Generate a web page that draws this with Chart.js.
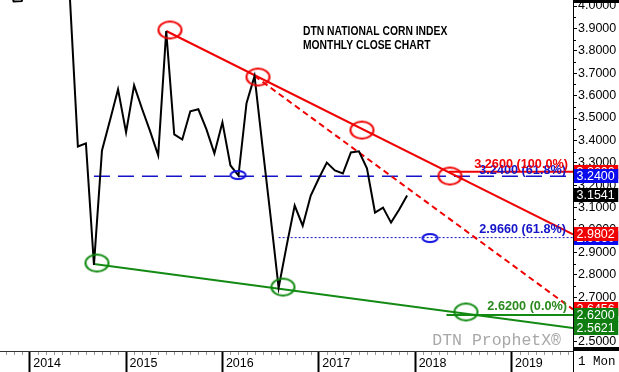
<!DOCTYPE html>
<html><head><meta charset="utf-8">
<script src="https://cdn.jsdelivr.net/npm/chart.js@4/dist/chart.umd.min.js"></script>
<style>html,body{margin:0;padding:0;background:#fff}#c{display:block}</style>
</head><body>
<canvas id="c" width="619" height="372"></canvas>
<script>
// month index: 0 = Jan 2014
const months = [-4,-3,-2,-1,0,1,2,3,4,5,6,7,8,9,10,11,12,13,14,15,16,17,18,19,20,21,22,23,24,25,26,27,28,29,30,31,32,33,34,35,36,37,38,39,40,41,42,43,44,45,46,47];
const closes = [4.30,4.15,4.020,4.022,4.12,4.35,4.48,4.60,4.42,4.04,3.373,3.387,2.844,3.355,3.490,3.628,3.436,3.646,3.540,3.440,3.333,3.888,3.427,3.404,3.530,3.539,3.450,3.342,3.481,3.288,3.243,3.566,3.687,3.370,3.060,2.742,2.930,3.109,3.019,3.154,3.230,3.301,3.266,3.252,3.346,3.351,3.275,3.078,3.100,3.033,3.090,3.1541];

const xMin = -3.70, xMax = 67.66;
const yMin = 2.4597, yMax = 4.0269;

const yearTickMonths = [0,12,24,36,48,60];
const yearLabels = ['2014','2015','2016','2017','2018','2019'];
const yTicks = [2.5,2.6,2.7,2.8,2.9,3.0,3.1,3.2,3.3,3.4,3.5,3.6,3.7,3.8,3.9,4.0];

// trend lines [start, end]
const redTrendX = [17, xMax],   redTrendY = [3.8885, 2.9802];
const redDashX  = [28, xMax],   redDashY  = [3.6876, 2.6456];
const greenTrendX = [8, xMax],  greenTrendY = [2.848, 2.5621];
const blueLevelX = [8, xMax],   blueLevelY = [3.24, 3.24];
const blueDotX  = [31, xMax],   blueDotY  = [2.966, 2.966];
const redLevelX = [52.2, xMax], redLevelY = [3.26, 3.26];
const greenLevelX = [51.9, xMax], greenLevelY = [2.62, 2.62];

// circled points
const redCircleX = [17.47, 28.43, 41.38, 52.34], redCircleY = [3.893, 3.683, 3.446, 3.241];
const greenCircleX = [8.38, 31.54, 54.33], greenCircleY = [2.8526, 2.745, 2.634];
const blueCircleX = [25.94, 49.85], blueCircleY = [3.2455, 2.964];

// level labels on the chart
const levelValues = [3.24, 3.26, 2.966, 2.62];
const levelTexts = ['3.2400 (61.8%)', '3.2600 (100.0%)', '2.9660 (61.8%)', '2.6200 (0.0%)'];

// value boxes on the right axis
const boxValues = [3.26, 3.24, 3.1541, 2.966, 2.9802, 2.6456, 2.62, 2.5621];
const boxTexts  = ['3.2600','3.2400','3.1541','2.9660','2.9802','2.6456','2.6200','2.5621'];

const titleLines = ['DTN NATIONAL CORN INDEX', 'MONTHLY CLOSE CHART'];

const RED = '#f00000', GREEN = '#138a13', BLUE = '#1414c8';
const SANS = "'Liberation Sans', Arial, sans-serif";
const MONO = "'Liberation Mono', 'Courier New', monospace";

function pts(xs, ys){ return xs.map((v,i)=>({x:v, y:ys[i]})); }
function ellipse(rx, ry, color, w){
  const c = document.createElement('canvas');
  c.width = Math.ceil(rx*2 + w + 2); c.height = Math.ceil(ry*2 + w + 2);
  const g = c.getContext('2d');
  g.strokeStyle = color; g.lineWidth = w;
  g.beginPath(); g.ellipse(c.width/2, c.height/2, rx, ry, 0, 0, Math.PI*2); g.stroke();
  return c;
}

const levelStyles = [
  {color: BLUE, dy: -6, right: 566},
  {color: RED, dy: -7, right: 568},
  {color: BLUE, dy: -8, right: 566},
  {color: '#2a8a1e', dy: -9, right: 567}
];
const boxColors = [RED, '#0a0aee', '#000000', '#0a0aee', RED, RED, '#0f7d0f', '#0f7d0f'];

const overlay = {
  id: 'overlay',
  afterDraw(chart){
    const {ctx, chartArea: a, scales: {x, y}} = chart;
    const W = chart.width, H = chart.height;
    ctx.save();
    // minor month ticks along bottom strip
    ctx.strokeStyle = '#9a9a9a'; ctx.lineWidth = 1;
    for (let m = Math.ceil(x.min); m <= x.max; m++) {
      if (yearTickMonths.includes(m)) continue;
      const px = Math.round(x.getPixelForValue(m)) + 0.5;
      ctx.beginPath(); ctx.moveTo(px, a.bottom + 1); ctx.lineTo(px, a.bottom + 4); ctx.stroke();
    }
    // minor y ticks
    ctx.strokeStyle = '#000';
    for (let i = 0; i < yTicks.length; i++) {
      const v = yTicks[i] + 0.05;
      if (v > y.max) continue;
      const py = Math.round(y.getPixelForValue(v)) + 0.5;
      ctx.beginPath(); ctx.moveTo(a.right, py); ctx.lineTo(a.right + 3, py); ctx.stroke();
    }
    // frame pieces on right axis
    ctx.fillStyle = '#000';
    ctx.fillRect(a.right, 0, W - a.right, 3);
    ctx.fillRect(a.right, a.bottom - 4, W - a.right, 4);
    ctx.fillRect(a.right, a.bottom, 1, H - a.bottom);
    // bottom-right cell text
    ctx.font = '12.5px ' + MONO; ctx.textBaseline = 'middle'; ctx.textAlign = 'left';
    ctx.fillText('1 Mon', a.right + 5, 362);
    // title (condensed bold)
    ctx.font = 'bold 12px ' + SANS;
    ctx.save(); ctx.translate(303, 31.5); ctx.scale(0.86, 1); ctx.fillText(titleLines[0], 0, 0); ctx.restore();
    ctx.save(); ctx.translate(303, 45.5); ctx.scale(0.86, 1); ctx.fillText(titleLines[1], 0, 0); ctx.restore();
    // watermark
    ctx.font = '16.5px ' + MONO; ctx.fillStyle = '#a8a8a8'; ctx.textAlign = 'right';
    ctx.fillText('DTN ProphetX\u00AE', 561, 341);
    // level labels
    ctx.font = 'bold 12.7px ' + SANS; ctx.textAlign = 'right';
    for (let i = 0; i < levelValues.length; i++) {
      const s = levelStyles[i];
      ctx.fillStyle = s.color;
      ctx.fillText(levelTexts[i], s.right, y.getPixelForValue(levelValues[i]) + s.dy);
    }
    // value boxes
    ctx.font = '12.5px ' + SANS; ctx.textAlign = 'left';
    for (let i = 0; i < boxValues.length; i++) {
      const py = y.getPixelForValue(boxValues[i]);
      const tw = ctx.measureText(boxTexts[i]).width;
      ctx.fillStyle = boxColors[i];
      ctx.fillRect(a.right + 1, Math.round(py - 7), tw + 6, 14);
      ctx.fillStyle = '#fff';
      ctx.fillText(boxTexts[i], a.right + 3.5, py + 0.5);
    }
    ctx.restore();
  }
};

new Chart(document.getElementById('c'), {
  type: 'line',
  data: {
    datasets: [
      {data: pts(redCircleX, redCircleY), showLine: false, pointStyle: ellipse(11.5, 8.5, RED, 2), pointRadius: 12, order: 0},
      {data: pts(greenCircleX, greenCircleY), showLine: false, pointStyle: ellipse(11.5, 8.5, '#0f8a0f', 2), pointRadius: 12, order: 0},
      {data: pts(blueCircleX, blueCircleY), showLine: false, pointStyle: ellipse(7.5, 4, '#1010e0', 2), pointRadius: 8, order: 0},
      {data: pts(months, closes), borderColor: '#000', borderWidth: 2, pointRadius: 0, order: 1},
      {data: pts(redTrendX, redTrendY), borderColor: RED, borderWidth: 2, pointRadius: 0, order: 2},
      {data: pts(redDashX, redDashY), borderColor: RED, borderWidth: 2, borderDash: [6, 4], pointRadius: 0, order: 2},
      {data: pts(greenTrendX, greenTrendY), borderColor: GREEN, borderWidth: 2, pointRadius: 0, order: 2},
      {data: pts(redLevelX, redLevelY), borderColor: RED, borderWidth: 2, pointRadius: 0, order: 3},
      {data: pts(greenLevelX, greenLevelY), borderColor: GREEN, borderWidth: 2, pointRadius: 0, order: 3},
      {data: pts(blueLevelX, blueLevelY), borderColor: BLUE, borderWidth: 1.3, borderDash: [16, 8], pointRadius: 0, order: 3},
      {data: pts(blueDotX, blueDotY), borderColor: BLUE, borderWidth: 1, borderDash: [2, 2], pointRadius: 0, order: 3}
    ]
  },
  options: {
    responsive: false, animation: false, devicePixelRatio: 1, events: [],
    layout: {padding: 0, autoPadding: false},
    plugins: {legend: {display: false}, tooltip: {enabled: false}},
    elements: {line: {tension: 0}},
    scales: {
      x: {
        type: 'linear', position: 'bottom', min: xMin, max: xMax,
        afterBuildTicks: s => { s.ticks = yearTickMonths.map(v => ({value: v})); },
        ticks: {callback: (v, i) => yearLabels[i], autoSkip: false, maxRotation: 0, align: 'start',
                labelOffset: 3.5, padding: -15.5, color: '#000', font: {family: SANS, size: 12.5}},
        grid: {drawOnChartArea: false, drawTicks: true, tickLength: 21, tickWidth: 2, tickColor: '#000'},
        border: {display: true, color: '#333', width: 1},
        afterFit: s => { s.height = 21; s.paddingLeft = 0; s.paddingRight = 0; }
      },
      y: {
        type: 'linear', position: 'right', min: yMin, max: yMax,
        afterBuildTicks: s => { s.ticks = yTicks.map(v => ({value: v})); },
        ticks: {callback: v => Number(v).toFixed(4), autoSkip: false, padding: 1, color: '#000', font: {family: SANS, size: 12.5}},
        grid: {drawOnChartArea: false, drawTicks: true, tickLength: 4, tickWidth: 1, tickColor: '#000'},
        border: {display: true, color: '#000', width: 1},
        afterFit: s => { s.width = 46; s.paddingTop = 0; s.paddingBottom = 0; }
      }
    }
  },
  plugins: [overlay]
});
</script>
</body></html>
